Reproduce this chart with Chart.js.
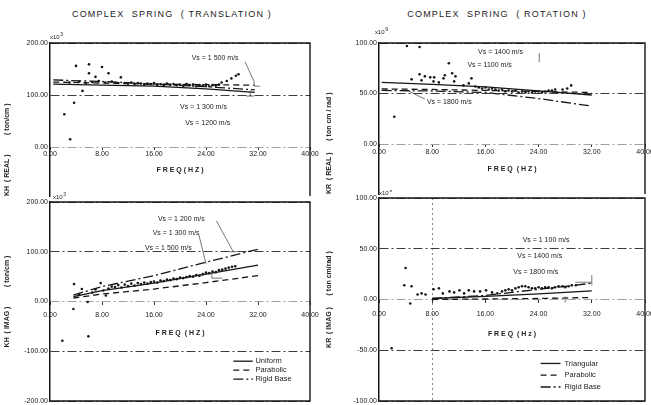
<!DOCTYPE html>
<html>
<head>
<meta charset="utf-8">
<script src="https://cdn.jsdelivr.net/npm/chart.js@4.4.1/dist/chart.umd.min.js"></script>
<style>
body { margin: 0; width: 651px; height: 405px; background: #fff; position: relative; overflow: hidden;
       font-family: "Liberation Sans", Arial, sans-serif; color: #222; }
canvas { position: absolute; }
.titre { position: absolute; top: 9px; width: 320px; text-align: center; font-size: 9px;
         letter-spacing: 1.2px; white-space: pre; }
</style>
</head>
<body>
<div class="titre" style="left:12px">COMPLEX  SPRING  ( TRANSLATION )</div>
<div class="titre" style="left:337px">COMPLEX  SPRING  ( ROTATION )</div>
<canvas id="khReel" width="322" height="175" style="left:0;top:25px"></canvas>
<canvas id="khImag" width="322" height="215" style="left:0;top:190px"></canvas>
<canvas id="krReel" width="329" height="175" style="left:322px;top:25px"></canvas>
<canvas id="krImag" width="329" height="215" style="left:322px;top:190px"></canvas>
<script>
const police = '"Liberation Sans", Arial, sans-serif';
Chart.defaults.font.family = police;

// --- DONNÉES ---
const freqTicks = [0, 8, 16, 24, 32, 40];
const niveauxKHr = [0, 100, 200];
const niveauxKHi = [-200, -100, 0, 100, 200];
const niveauxKRr = [0, 50, 100];
const niveauxKRi = [-100, -50, 0, 50, 100];

// KH réel (x10^3 ton/cm)
const freqModeleKHr = [0.5, 8, 16, 24, 31.5];
const uniformeKHr = [121, 119, 117, 112, 105];
const paraboliqueKHr = [125, 123, 121, 120, 119];
const rigideKHr = [129, 126, 121, 116, 110];
const mesuresKHr = [
    [2.2, 63], [3.1, 15], [3.7, 85], [4.0, 156], [5.0, 108], [6.0, 159], [6.0, 142], [7.0, 135],
    [8.0, 154], [9.0, 142], [10.9, 134], [3.0, 124], [4.5, 126], [5.5, 123], [6.5, 125], [7.5, 127],
    [8.5, 124], [9.5, 126], [10.5, 123], [11.5, 123], [12, 122], [12.5, 124], [13, 121], [13.5, 123],
    [14, 122], [14.5, 120], [15, 122], [15.5, 121], [16, 123], [16.5, 120], [17, 121], [17.5, 119],
    [18, 122], [18.5, 120], [19, 121], [19.5, 119], [20, 120], [20.5, 118], [21, 121], [21.5, 119],
    [22, 120], [22.5, 117], [23, 119], [23.5, 118], [24, 120], [24.5, 117], [25, 119], [25.5, 118],
    [26, 120], [26.4, 124], [27.2, 127], [27.9, 132], [28.6, 137], [29.0, 140]
];

// KH imaginaire (x10^3 ton/cm)
const freqModeleKHi = [3.6, 8, 16, 24, 32];
const uniformeKHi = [10, 22, 37, 55, 73];
const paraboliqueKHi = [7, 15, 25, 38, 52];
const rigideKHi = [13, 30, 52, 79, 105];
const mesuresKHi = [
    [1.9, -79], [5.9, -70], [3.6, -15], [3.7, 35], [4.9, 25], [5.8, -1], [4.5, 14], [6.5, 18],
    [7.0, 24], [7.8, 37], [8.6, 12], [8.2, 22], [9, 26], [9.5, 30], [10, 29], [10.5, 33], [11, 28],
    [11.5, 34], [12, 31], [12.5, 36], [13, 32], [13.5, 37], [14, 35], [14.5, 38], [15, 36], [15.5, 39],
    [16, 40], [16.5, 38], [17, 42], [17.5, 41], [18, 44], [18.5, 43], [19, 46], [19.5, 45], [20, 48],
    [20.5, 47], [21, 49], [21.5, 51], [22, 50], [22.5, 53], [23, 52], [23.5, 55], [24, 58], [24.5, 57],
    [25, 60], [25.5, 59], [26, 63], [26.5, 64], [27, 66], [27.5, 68], [28, 70], [28.5, 71]
];

// KR réel (x10^9 ton cm/rad)
const freqModeleKRr = [0.4, 8, 16, 24, 32];
const triangulaireKRr = [61, 59, 56.5, 52.5, 48.5];
const paraboliqueKRr = [54.5, 54, 53, 52, 51];
const rigideKRr = [53, 52.5, 51, 45, 37.5];
const mesuresKRr = [
    [2.3, 27], [4.2, 97], [6.1, 96], [10.5, 80], [4.9, 64], [6.1, 69], [6.4, 63], [6.9, 67], [7.7, 66],
    [8.3, 66], [8.2, 62], [9.0, 61], [9.7, 65], [9.9, 68], [11.0, 70], [11.5, 67], [11.3, 62], [12.7, 58],
    [13.5, 60], [13.9, 65], [14.5, 57], [15, 56], [15.5, 55], [16, 56], [16.5, 54], [17, 55], [17.5, 54],
    [18, 53], [18.5, 54], [19, 52], [19.5, 53], [20, 52], [20.5, 53], [21, 51], [21.5, 52], [22, 51],
    [22.5, 52], [23, 51], [23.5, 52], [24, 52], [24.5, 51], [25, 52], [25.5, 53], [26, 53], [26.5, 54],
    [27.6, 54], [28.3, 55], [28.9, 58]
];

// KR imaginaire (x10^9 ton cm/rad)
const freqModeleKRi = [8, 16, 24, 32];
const triangulaireKRi = [1, 3, 5.5, 8.5];
const paraboliqueKRi = [0, 0.5, 1, 2];
const rigideKRi = [1, 4, 10, 16];
const mesuresKRi = [
    [1.9, -48], [3.8, 14], [4.0, 31], [4.9, 13], [4.7, -4], [5.8, 5], [6.4, 6], [7.0, 5], [8.2, 10],
    [9.0, 11], [9.6, 6], [10.6, 8], [11.3, 7], [12.1, 9], [12.8, 6], [13.5, 9], [14.3, 8], [15.2, 8],
    [16.1, 9], [17.0, 7], [17.8, 6], [18.5, 8], [19, 9], [19.5, 10], [20, 9], [20.5, 11], [21, 12],
    [21.5, 13], [22, 13], [22.5, 12], [23, 11], [23.5, 11], [24, 12], [24.5, 11], [25, 12], [25.5, 12],
    [26, 11], [26.5, 12], [27, 13], [27.6, 13], [28, 12], [28.5, 13], [29, 14], [29.6, 14]
];

const nomsTranslation = ['Uniform', 'Parabolic', 'Rigid Base'];
const nomsRotation = ['Triangular', 'Parabolic', 'Rigid Base'];

// --- OUTILS ---
const points = (xs, ys) => xs.map((x, i) => ({ x: x, y: ys[i] }));
const paires = liste => liste.map(p => ({ x: p[0], y: p[1] }));
const encre = '#161616';

// annotations : cadre, x10^n, textes Vs, traits de rappel, légende
function notes(p) {
    return {
        id: 'notes',
        afterDatasetsDraw(chart) {
            const { ctx, chartArea: a, scales: { x, y } } = chart;
            ctx.save();
            ctx.strokeStyle = encre;
            ctx.lineWidth = 1.4;
            ctx.setLineDash([]);
            ctx.beginPath();
            ctx.moveTo(a.left, a.top);
            ctx.lineTo(a.right, a.top);
            ctx.lineTo(a.right, a.bottom);
            if (p.cadreFerme) ctx.lineTo(a.left, a.bottom);
            ctx.stroke();

            // x10^n
            ctx.fillStyle = '#222';
            ctx.textAlign = 'left';
            ctx.textBaseline = 'alphabetic';
            const ex = a.left + p.exposant[1], ey = a.top + p.exposant[2];
            ctx.font = '6px ' + police;
            ctx.fillText('x10', ex, ey);
            const w = ctx.measureText('x10').width;
            ctx.font = '5px ' + police;
            ctx.fillText(p.exposant[0], ex + w + 0.5, ey - 3);

            // textes Vs
            ctx.font = '7px ' + police;
            ctx.textBaseline = 'middle';
            p.textes.forEach(t => ctx.fillText(t[0], x.getPixelForValue(t[1]), y.getPixelForValue(t[2])));

            // traits de rappel
            ctx.strokeStyle = '#555';
            ctx.lineWidth = 0.8;
            p.traits.forEach(t => {
                ctx.beginPath();
                ctx.moveTo(x.getPixelForValue(t[0]), y.getPixelForValue(t[1]));
                ctx.lineTo(x.getPixelForValue(t[2]), y.getPixelForValue(t[3]));
                ctx.stroke();
            });

            // légende
            if (p.legende) {
                const L = p.legende;
                ctx.font = '7.5px ' + police;
                chart.data.datasets.slice(0, 3).forEach((ds, i) => {
                    const yy = y.getPixelForValue(L.y - i * L.pas);
                    ctx.strokeStyle = encre;
                    ctx.lineWidth = 1.3;
                    ctx.setLineDash(ds.borderDash || []);
                    ctx.beginPath();
                    ctx.moveTo(x.getPixelForValue(L.x1), yy);
                    ctx.lineTo(x.getPixelForValue(L.x2), yy);
                    ctx.stroke();
                    ctx.fillText(ds.label, x.getPixelForValue(L.xt), yy);
                });
            }
            ctx.restore();
        }
    };
}

function creerPanneau(idCanvas, p) {
    const ligne = { showLine: true, borderColor: encre, borderWidth: 1.3, pointRadius: 0 };
    return new Chart(document.getElementById(idCanvas), {
        type: 'scatter',
        data: {
            datasets: [
                { ...ligne, label: p.noms[0], data: points(p.freqModele, p.serieA) },
                { ...ligne, label: p.noms[1], data: points(p.freqModele, p.serieB), borderDash: [6, 4] },
                { ...ligne, label: p.noms[2], data: points(p.freqModele, p.serieC), borderDash: [10, 3, 2, 3] },
                { label: 'Mesures', data: paires(p.mesures), showLine: false, pointRadius: 1.3,
                  backgroundColor: encre, borderWidth: 0 }
            ]
        },
        options: {
            responsive: false,
            animation: false,
            events: [],
            layout: { padding: p.marges },
            plugins: { legend: { display: false }, tooltip: { enabled: false } },
            scales: {
                x: {
                    type: 'linear',
                    position: { y: 0 },
                    min: freqTicks[0],
                    max: freqTicks[freqTicks.length - 1],
                    afterBuildTicks: s => { s.ticks = freqTicks.map(v => ({ value: v })); },
                    ticks: { padding: p.padTickX, color: '#222', font: { size: 7 }, maxRotation: 0,
                             autoSkip: false, callback: v => v.toFixed(2) },
                    grid: { drawOnChartArea: true, tickLength: 3, tickColor: '#333',
                            color: c => (p.verticales.includes(c.tick.value) ? '#8a8a8a' : 'rgba(0,0,0,0)') },
                    border: { display: false, dash: [2, 3] },
                    title: { display: true, text: p.titreX, color: '#222', font: { size: 7, weight: 'bold' },
                             padding: { top: p.padTitreX, bottom: 0 } },
                    afterFit: s => { s.paddingLeft = 0; s.paddingRight = 0; }
                },
                y: {
                    min: p.yMin,
                    max: p.yMax,
                    afterBuildTicks: s => { s.ticks = p.niveaux.map(v => ({ value: v })); },
                    ticks: { padding: 2, color: '#222', font: { size: 7 }, callback: v => v.toFixed(2) },
                    grid: { drawTicks: false, lineWidth: 1,
                            color: c => (c.tick.value === 0 ? '#a0a0a0' : '#3c3c3c') },
                    border: { display: true, color: encre, width: 1.5, dash: [9, 3, 2, 3] },
                    title: { display: true, text: p.titreY, align: p.alignTitreY, color: '#222',
                             font: { size: 7, weight: 'bold' }, padding: { top: 3, bottom: 0 } },
                    afterFit: s => { s.width = p.largeurAxe; s.paddingTop = 0; s.paddingBottom = 0; }
                }
            }
        },
        plugins: [notes(p)]
    });
}

// --- PANNEAUX ---
creerPanneau('khReel', {
    noms: nomsTranslation, freqModele: freqModeleKHr,
    serieA: uniformeKHr, serieB: paraboliqueKHr, serieC: rigideKHr, mesures: mesuresKHr,
    marges: { top: 18, bottom: 4, left: 0, right: 12 }, largeurAxe: 50,
    yMin: -94, yMax: 200, niveaux: niveauxKHr, padTickX: 0, padTitreX: 7,
    titreX: 'F R E Q ( H Z )', titreY: 'KH  ( REAL )          ( ton/cm )', alignTitreY: 'start',
    verticales: [], cadreFerme: false, exposant: ['3', 0, -4],
    textes: [['Vs = 1 500 m/s', 21.8, 171], ['Vs = 1 300 m/s', 20, 77], ['Vs = 1200 m/s', 20.8, 46]],
    traits: [[30, 164, 31.4, 126], [31.4, 126, 31.4, 117], [31.4, 117, 32.3, 117],
             [30.8, 109, 30.8, 98], [30.2, 98, 31.4, 98]],
    legende: null
});

creerPanneau('khImag', {
    noms: nomsTranslation, freqModele: freqModeleKHi,
    serieA: uniformeKHi, serieB: paraboliqueKHi, serieC: rigideKHi, mesures: mesuresKHi,
    marges: { top: 12, bottom: 2, left: 0, right: 12 }, largeurAxe: 50,
    yMin: -200, yMax: 200, niveaux: niveauxKHi, padTickX: 6, padTitreX: 4,
    titreX: 'F R E Q  ( H Z )', titreY: 'KH  ( IMAG )          ( ton/cm )', alignTitreY: 'center',
    verticales: [], cadreFerme: true, exposant: ['3', 3, -3],
    textes: [['Vs = 1 200 m/s', 16.6, 166], ['Vs = 1 300 m/s', 15.8, 137], ['Vs = 1 500 m/s', 14.6, 107]],
    traits: [[25.6, 162, 28.2, 100], [27.6, 100, 28.8, 100], [22.9, 134, 24, 76],
             [24.9, 62, 24.9, 47], [24.9, 47, 26.5, 47]],
    legende: { x1: 28.2, x2: 31.2, xt: 31.6, y: -120, pas: 18 }
});

creerPanneau('krReel', {
    noms: nomsRotation, freqModele: freqModeleKRr,
    serieA: triangulaireKRr, serieB: paraboliqueKRr, serieC: rigideKRr, mesures: mesuresKRr,
    marges: { top: 18, bottom: 6, left: 0, right: 6 }, largeurAxe: 57,
    yMin: -49.5, yMax: 100, niveaux: niveauxKRr, padTickX: 1, padTitreX: 7,
    titreX: 'F R E Q  ( H Z )', titreY: 'KR  ( REAL )      ( ton cm / rad )', alignTitreY: 'start',
    verticales: [], cadreFerme: false, exposant: ['9', -4, -9],
    textes: [['Vs = 1400 m/s', 14.9, 91], ['Vs = 1100 m/s', 13.3, 78], ['Vs = 1800 m/s', 7.2, 42]],
    traits: [[24.1, 90, 24.1, 81], [6.9, 44.5, 4.4, 52.5]],
    legende: null
});

creerPanneau('krImag', {
    noms: nomsRotation, freqModele: freqModeleKRi,
    serieA: triangulaireKRi, serieB: paraboliqueKRi, serieC: rigideKRi, mesures: mesuresKRi,
    marges: { top: 8, bottom: 4, left: 0, right: 6 }, largeurAxe: 57,
    yMin: -100, yMax: 100, niveaux: niveauxKRi, padTickX: 7, padTitreX: 5,
    titreX: 'F R E Q  ( H z )', titreY: 'KR  ( IMAG )      ( ton cm/rad )', alignTitreY: 'center',
    verticales: [8], cadreFerme: true, exposant: ['9', 0, -3],
    textes: [['Vs = 1 100 m/s', 21.6, 59], ['Vs = 1400 m/s', 20.8, 43], ['Vs = 1800 m/s', 20.2, 27]],
    traits: [[32, 14, 32, 24], [29.5, 17, 32, 17], [28, 3, 28, -3]],
    legende: { x1: 24.3, x2: 27.3, xt: 27.9, y: -63, pas: 11.6 }
});
</script>
</body>
</html>
